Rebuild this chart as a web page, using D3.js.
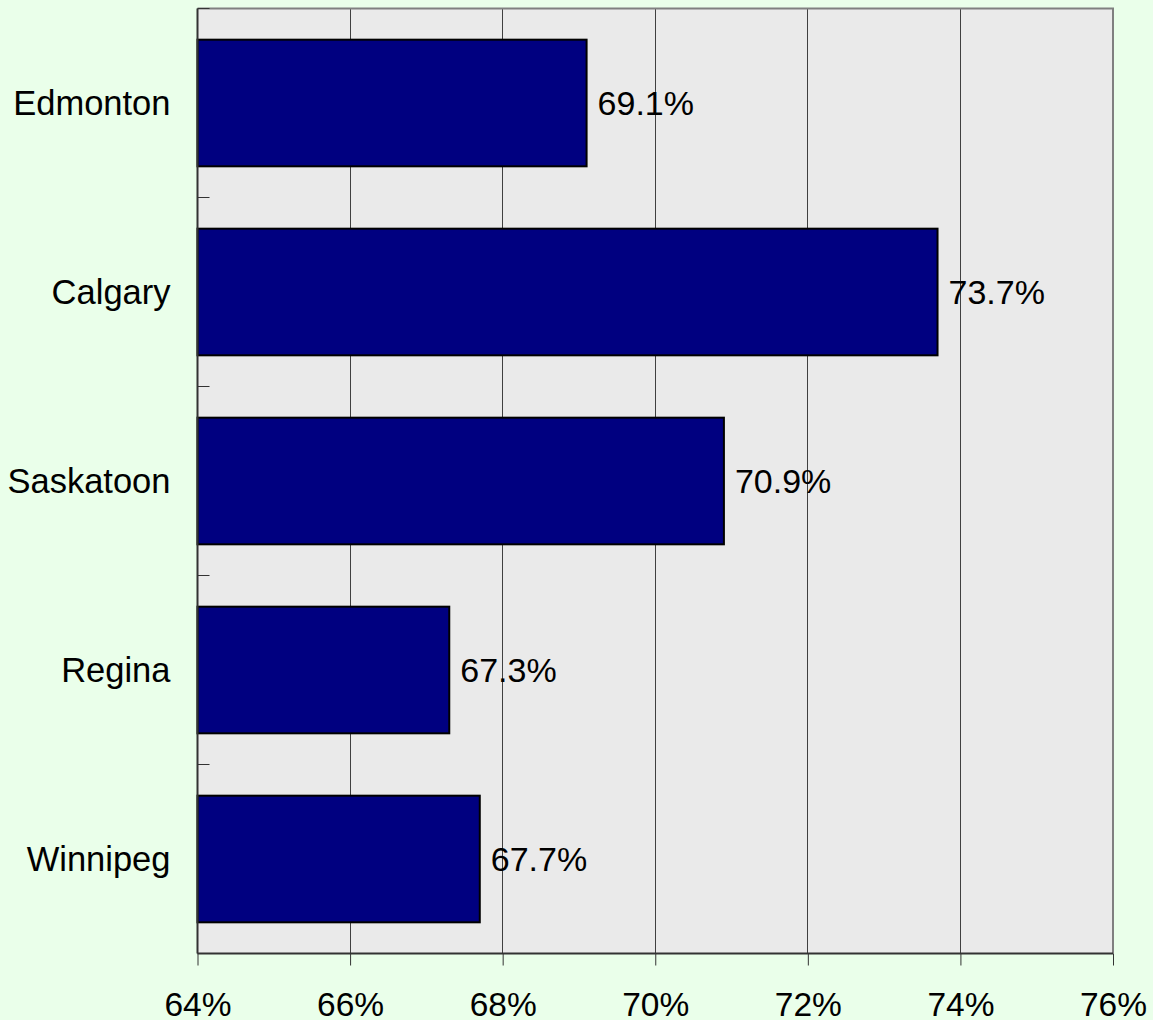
<!DOCTYPE html>
<html lang="en">
<head>
<meta charset="utf-8">
<title>Bar chart</title>
<script src="https://d3js.org/d3.v7.min.js"></script>
<style>
  html, body { margin: 0; padding: 0; background: #eaffea; }
  text { font-family: "Liberation Sans", Arial, sans-serif; }
</style>
</head>
<body>
<div id="chart"></div>
<script>
// data
const cities = ['Edmonton', 'Calgary', 'Saskatoon', 'Regina', 'Winnipeg'];
const values = [69.1, 73.7, 70.9, 67.3, 67.7];
const xTicks = [64, 66, 68, 70, 72, 74, 76];

const width = 1153, height = 1020;
const margin = { top: 8.5, right: 40, bottom: 67, left: 197.5 };
const innerW = 1113 - margin.left;
const innerH = 953.5 - margin.top;

const svg = d3.select('#chart').append('svg')
    .attr('width', width)
    .attr('height', height)
    .style('display', 'block');

svg.append('rect')
    .attr('width', width).attr('height', height)
    .attr('fill', '#eaffea');

const g = svg.append('g')
    .attr('transform', `translate(${margin.left},${margin.top})`);

const x = d3.scaleLinear().domain([64, 76]).range([0, innerW]);
const y = d3.scaleBand().domain(cities).range([0, innerH])
    .paddingInner(0.33).paddingOuter(0.165);

// plot background
g.append('rect')
    .attr('width', innerW).attr('height', innerH)
    .attr('fill', '#eaeaea');

// gridlines
g.selectAll('.grid')
    .data(xTicks.slice(1, -1))
    .enter().append('line')
    .attr('class', 'grid')
    .attr('x1', d => Math.round(x(d)))
    .attr('x2', d => Math.round(x(d)))
    .attr('y1', 0).attr('y2', innerH)
    .attr('stroke', '#404040').attr('stroke-width', 1);

// top and right frame
g.append('path')
    .attr('d', `M0,0H${innerW}V${innerH}`)
    .attr('fill', 'none')
    .attr('stroke', '#808080')
    .attr('stroke-width', 2);

// bars
const data = cities.map((c, i) => ({ city: c, value: values[i] }));

g.selectAll('.bar')
    .data(data)
    .enter().append('rect')
    .attr('class', 'bar')
    .attr('x', 0)
    .attr('y', d => y(d.city))
    .attr('width', d => x(d.value))
    .attr('height', y.bandwidth())
    .attr('fill', '#000080')
    .attr('stroke', '#000')
    .attr('stroke-width', 2);

// value labels
g.selectAll('.val')
    .data(data)
    .enter().append('text')
    .attr('class', 'val')
    .attr('x', d => x(d.value) + 11)
    .attr('y', d => y(d.city) + y.bandwidth() / 2)
    .attr('dy', '0.36em')
    .attr('font-size', 34)
    .attr('fill', '#000')
    .text(d => d.value.toFixed(1) + '%');

// x axis
const xAxis = g.append('g')
    .attr('transform', `translate(0,${innerH})`)
    .call(d3.axisBottom(x).tickValues(xTicks).tickSize(12).tickPadding(27)
        .tickFormat(d => d + '%'));
xAxis.select('.domain').attr('stroke', '#333').attr('stroke-width', 2).attr('d', `M0,0H${innerW}`);
xAxis.selectAll('.tick line').attr('stroke', '#333');
xAxis.selectAll('.tick text')
    .attr('font-size', 33.5)
    .attr('fill', '#000')
    .attr('font-family', '"Liberation Sans", Arial, sans-serif');

// y axis: category boundaries as inward ticks
const bounds = d3.range(cities.length + 1).map(i => i * innerH / cities.length);
g.append('line')
    .attr('x1', 0).attr('x2', 0).attr('y1', 0).attr('y2', innerH)
    .attr('stroke', '#333').attr('stroke-width', 2);
g.selectAll('.ytick')
    .data(bounds)
    .enter().append('line')
    .attr('class', 'ytick')
    .attr('x1', 0).attr('x2', 12)
    .attr('y1', d => Math.round(d)).attr('y2', d => Math.round(d))
    .attr('stroke', '#333').attr('stroke-width', 1);

// category labels
g.selectAll('.cat')
    .data(cities)
    .enter().append('text')
    .attr('class', 'cat')
    .attr('x', -27)
    .attr('y', d => y(d) + y.bandwidth() / 2)
    .attr('dy', '0.36em')
    .attr('text-anchor', 'end')
    .attr('font-size', 34.5)
    .attr('fill', '#000')
    .text(d => d);
</script>
</body>
</html>
